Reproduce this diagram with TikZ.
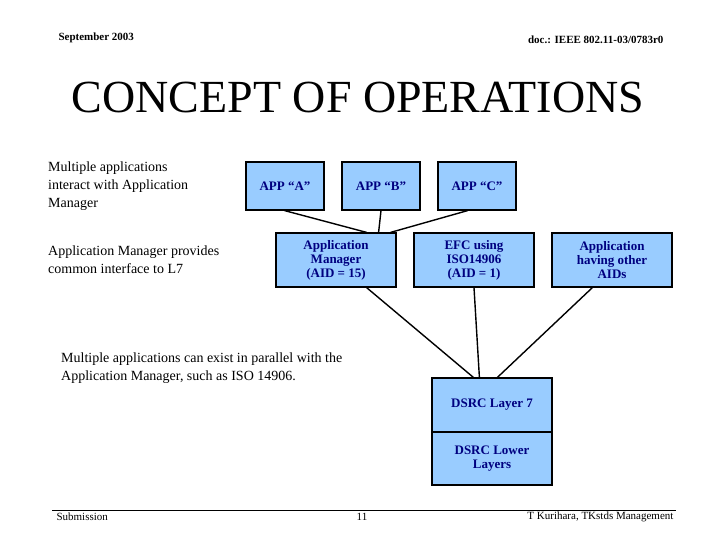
\documentclass[tikz,border=0pt]{standalone}
\usepackage{fontspec}
\setmainfont{Liberation Serif}
\begin{document}
\begin{tikzpicture}[x=1pt,y=-1pt,
 bx/.style={draw=black,line width=1.2pt,fill={rgb,255:red,153;green,204;blue,255},text={rgb,255:red,0;green,0;blue,128},font=\fontsize{13}{14}\selectfont\bfseries,align=center,inner sep=0pt},
 ln/.style={line width=1.4pt},
 tx/.style={anchor=north west,align=left,font=\fontsize{14}{18}\selectfont,inner sep=0pt}]
\useasboundingbox (0,0) rectangle (720,540);
\node[anchor=west,font=\fontsize{11}{12}\selectfont\bfseries] (hl) at (55,38) {September 2003};
\node[anchor=east,font=\fontsize{11}{12}\selectfont\bfseries] (hr) at (667,40) {doc.: IEEE 802.11-03/0783r0};
\node[font=\fontsize{46}{50}\selectfont] (title) at (358,97) {CONCEPT OF OPERATIONS};
\node[tx] (t1) at (48,162) {Multiple applications\\interact with Application\\Manager};
\node[tx] (t2) at (48,246) {Application Manager provides\\common interface to L7};
\node[tx] (t3) at (61,353) {Multiple applications can exist in parallel with the\\Application Manager, such as ISO 14906.};
\node[bx,minimum width=78,minimum height=48] (a) at (285,186) {APP ``A''};
\node[bx,minimum width=78,minimum height=48] (b) at (381,186) {APP ``B''};
\node[bx,minimum width=78,minimum height=48] (c) at (477,186) {APP ``C''};
\node[bx,minimum width=120,minimum height=54] (m) at (336,260) {Application\\Manager\\(AID = 15)};
\node[bx,minimum width=120,minimum height=54] (e) at (474,260) {EFC using\\ISO14906\\(AID = 1)};
\node[bx,minimum width=120,minimum height=54] (o) at (612,260) {Application\\having other\\AIDs};
\node[bx,minimum width=120,minimum height=54] (l7) at (492,405) {DSRC Layer 7};
\node[bx,minimum width=120,minimum height=53] (ll) at (492,458.5) {DSRC Lower\\Layers};
\draw[ln] ([xshift=-40pt]a.south east) -- ([xshift=-30pt]m.north east);
\draw[ln] (b.south) -- ([xshift=-18pt]m.north east);
\draw[ln] ([xshift=-49pt]c.south east) -- ([xshift=-6pt]m.north east);
\draw[ln] ([xshift=-30pt]m.south east) -- ([xshift=42pt]l7.north west);
\draw[ln] (e.south) -- ([xshift=48pt]l7.north west);
\draw[ln] ([xshift=41pt]o.south west) -- ([xshift=66pt]l7.north west);
\coordinate (f1) at (52,510); \coordinate (f2) at (676,510);
\draw[line width=1pt] (f1) -- (f2);
\node[anchor=west,font=\fontsize{11}{12}\selectfont] (s) at (53,517) {Submission};
\node[font=\fontsize{11}{12}\selectfont] (p) at (362,517) {11};
\node[anchor=east,font=\fontsize{11}{12}\selectfont] (au) at (677,517) {T Kurihara, TKstds Management};
\end{tikzpicture}
\end{document}
